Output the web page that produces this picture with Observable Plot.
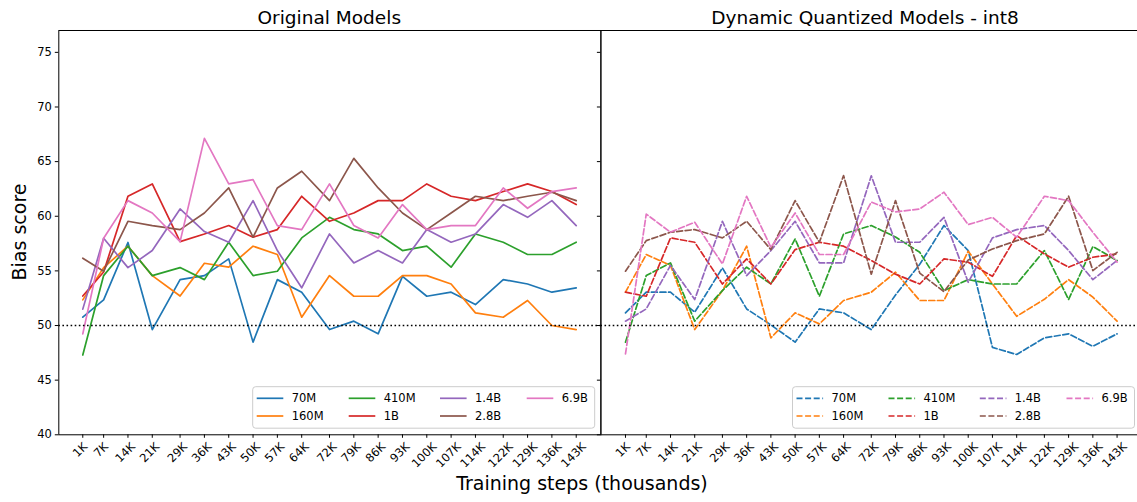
<!DOCTYPE html>
<html><head><meta charset="utf-8">
<script src="https://cdn.jsdelivr.net/npm/d3@7"></script>
<script src="https://cdn.jsdelivr.net/npm/@observablehq/plot@0.6"></script>
<style>
html,body{margin:0;padding:0;background:#fff;overflow:hidden;}
#wrap{position:relative;width:1137px;height:502px;overflow:hidden;font-family:"DejaVu Sans",sans-serif;}
#wrap svg{position:absolute;top:0;max-width:none;overflow:visible;}
</style></head>
<body><div id="wrap"></div>
<script>
// ---------- data ----------
const steps = [1,7,14,21,29,36,43,50,57,64,72,79,86,93,100,107,114,122,129,136,143];
const tickLabels = ["1K","7K","14K","21K","29K","36K","43K","50K","57K","64K","72K","79K","86K","93K","100K","107K","114K","122K","129K","136K","143K"];
const models = ["70M","160M","410M","1B","1.4B","2.8B","6.9B"];
const colors = ["#1f77b4","#ff7f0e","#2ca02c","#d62728","#9467bd","#8c564b","#e377c2"];
const yTicks = [40,45,50,55,60,65,70,75];
const baseline = 50;

// Original models
const orig70M  = [50.76,52.35,57.6,49.63,54.2,54.57,56.1,48.48,54.2,53.05,49.63,50.4,49.24,54.5,52.68,53.05,51.92,54.2,53.8,53.05,53.45];
const orig160M = [52.35,55.3,57.26,54.57,52.7,55.7,55.34,57.26,56.5,50.76,54.57,52.68,52.68,54.57,54.57,53.8,51.16,50.76,52.29,50.0,49.63];
const orig410M = [47.3,54.57,57.26,54.57,55.3,54.2,57.62,54.57,54.97,58.02,59.9,58.78,58.38,56.86,57.26,55.34,58.38,57.62,56.5,56.5,57.62];
const orig1B   = [52.7,54.9,61.83,62.96,57.68,58.38,59.15,58.08,58.78,61.83,59.54,60.3,61.43,61.43,62.96,61.83,61.43,62.26,62.96,62.26,61.07];
const orig1_4B = [51.5,57.99,55.3,56.86,60.67,58.6,57.62,61.43,56.86,53.45,58.38,55.73,56.86,55.73,58.78,57.62,58.38,61.07,59.9,61.43,59.15];
const orig2_8B = [56.16,54.97,59.54,59.15,58.78,60.3,62.59,58.08,62.59,64.12,61.43,65.3,62.59,60.3,58.78,60.3,61.83,61.43,61.83,62.2,61.43];
const orig6_9B = [49.24,57.99,61.43,60.3,57.68,67.13,62.96,63.35,59.15,58.78,62.96,59.15,58.02,61.07,58.78,59.15,59.15,62.59,60.73,62.26,62.59];

// Dynamic quantized int8 models
const quant70M  = [51.16,53.05,53.05,51.22,55.27,51.52,50.06,48.48,51.52,51.16,49.63,52.8,55.6,59.15,56.86,48.0,47.35,48.87,49.24,48.1,49.24];
const quant160M = [53.05,56.5,55.5,49.63,53.2,57.26,48.87,51.16,50.15,52.29,53.05,54.88,52.29,52.29,56.8,53.8,50.85,52.4,54.2,52.6,50.4];
const quant410M = [48.48,54.57,55.73,50.4,53.2,55.34,53.8,57.93,52.68,58.38,59.15,58.1,56.7,53.2,54.2,53.8,53.8,56.86,52.38,57.23,55.95];
const quant1B   = [53.05,52.68,58.02,57.62,53.8,56.1,53.8,56.95,57.62,57.26,55.95,54.7,53.8,56.1,55.8,54.5,58.23,56.55,55.34,56.25,56.55];
const quant1_4B = [50.4,51.52,55.5,52.38,59.54,54.57,56.86,59.54,55.73,55.73,63.7,57.62,57.62,59.9,53.96,58.02,58.78,59.15,56.86,54.2,55.95];
const quant2_8B = [54.97,57.77,58.54,58.78,58.02,59.54,56.95,61.43,57.62,63.72,54.7,61.43,54.8,53.1,56.0,57.0,57.77,58.38,61.83,55.03,56.7];
const quant6_9B = [47.4,60.2,58.54,59.45,55.64,61.83,57.16,60.3,56.5,56.5,61.3,60.4,60.67,62.2,59.24,59.9,58.08,61.83,61.43,58.54,55.8];

const origSeries  = [orig70M,orig160M,orig410M,orig1B,orig1_4B,orig2_8B,orig6_9B];
const quantSeries = [quant70M,quant160M,quant410M,quant1B,quant1_4B,quant2_8B,quant6_9B];

// ---------- layout ----------
const W = 1137, H = 502;
const frameTop = 30, frameBottom = 434.3;
const yDomain = [40, 77];
const fs = 11.5;
const lw = 1.7;
const wrap = document.getElementById("wrap");

function panel({series, dash, left, width, marginLeft, xDomain, yLabels, fullFrame}) {
  const rows = [];
  models.forEach((m, k) => steps.forEach((s, i) => rows.push({model: m, step: s, value: series[k][i]})));
  const ticks = steps.map((s, i) => ({step: s, label: tickLabels[i]}));
  const labelMarks = d3.groups(ticks, d => d.label.length).map(([len, arr]) => {
    const w = ((len - 1) * 0.636 + 0.686) * fs;
    return Plot.text(arr, {x: "step", text: "label", frameAnchor: "bottom", rotate: -45,
      textAnchor: "middle", dy: 12.4 + 0.3536 * w, fontSize: fs, fill: "black"});
  });
  const frameMarks = fullFrame
    ? [Plot.frame({stroke: "black", strokeWidth: 1})]
    : [Plot.ruleY(yDomain, {stroke: "black", strokeWidth: 1}),
       Plot.ruleX([xDomain[0]], {stroke: "black", strokeWidth: 1})];
  const lineOpts = {x: "step", y: "value", z: "model", stroke: "model", strokeWidth: lw};
  if (dash) lineOpts.strokeDasharray = dash;
  const svg = Plot.plot({
    width, height: H,
    marginTop: frameTop, marginBottom: H - frameBottom, marginLeft, marginRight: 0,
    x: {domain: xDomain},
    y: {domain: yDomain},
    color: {domain: models, range: colors},
    style: {fontFamily: "DejaVu Sans, sans-serif", fontSize: fs + "px", background: "transparent", overflow: "visible"},
    marks: [
      Plot.line(rows, lineOpts),
      Plot.ruleY([baseline], {stroke: "black", strokeWidth: 1.6, strokeDasharray: "1.6,2.5"}),
      Plot.axisY({ticks: yTicks, tickSize: 3.5, tickPadding: 3.5, label: null, fontSize: fs,
        tickFormat: yLabels ? (d => String(d)) : (() => "")}),
      Plot.axisX({ticks: steps, tickSize: 3.5, label: null, tickFormat: () => ""}),
      ...labelMarks,
      ...frameMarks
    ]
  });
  svg.style.left = left + "px";
  wrap.appendChild(svg);
}

panel({series: origSeries, dash: null, left: 0, width: 600.4, marginLeft: 58.3,
       xDomain: [-5.9, 150.1], yLabels: true, fullFrame: true});
panel({series: quantSeries, dash: "6,2.6", left: 590, width: 547, marginLeft: 10.4,
       xDomain: [-6.1, 148.9], yLabels: false, fullFrame: false});

// ---------- titles, axis labels, legends ----------
const ov = d3.select(wrap).append("svg")
  .attr("width", W).attr("height", H)
  .style("left", "0px").style("font-family", "DejaVu Sans, sans-serif");

ov.append("text").attr("x", 329.3).attr("y", 23.5).attr("text-anchor", "middle")
  .attr("font-size", 18.5).text("Original Models");
ov.append("text").attr("x", 865).attr("y", 23.5).attr("text-anchor", "middle")
  .attr("font-size", 18.5).text("Dynamic Quantized Models - int8");
ov.append("text").attr("transform", "translate(26,232) rotate(-90)").attr("text-anchor", "middle")
  .attr("font-size", 19).text("Bias score");
ov.append("text").attr("x", 582).attr("y", 490).attr("text-anchor", "middle")
  .attr("font-size", 19).text("Training steps (thousands)");

function legend(boxX, dash) {
  const g = ov.append("g").attr("transform", `translate(${boxX},386.7)`);
  g.append("rect").attr("width", 342).attr("height", 41.5).attr("rx", 3)
    .attr("fill", "white").attr("fill-opacity", 0.8).attr("stroke", "#cccccc");
  const colX = [4, 96, 187.3, 274];
  const rowY = [11.6, 29.3];
  models.forEach((m, k) => {
    const cx = colX[Math.floor(k / 2)], cy = rowY[k % 2];
    const ln = g.append("line").attr("x1", cx).attr("x2", cx + 26.6).attr("y1", cy).attr("y2", cy)
      .attr("stroke", colors[k]).attr("stroke-width", lw);
    if (dash) ln.attr("stroke-dasharray", dash);
    g.append("text").attr("x", cx + 35).attr("y", cy + 4.2).attr("font-size", fs).text(m);
  });
}
legend(252.7, null);
legend(792.5, "6,2.6");
</script>
</body></html>
